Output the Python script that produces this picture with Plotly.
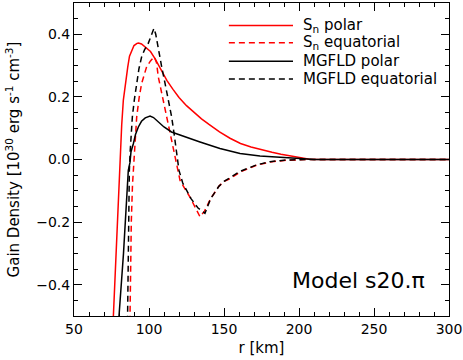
import plotly.graph_objects as go

# ---- data ----
r_sn_pol = [75.8, 78.0, 79.5, 80.7, 81.8, 82.9, 84.3, 85.8, 87.0, 88.4, 90.0, 92.0, 93.0, 95.0,
            98.0, 101.0, 104.0, 108.0, 112.0, 116.0, 120.0, 125.0, 130.0, 135.0, 140.0, 147.0,
            154.0, 161.0, 168.0, 175.0, 182.0, 188.0, 195.0, 201.0, 207.0, 215.0, 300.0]
g_sn_pol = [-0.55, -0.30, -0.12, 0.03, 0.11, 0.19, 0.25, 0.294, 0.33, 0.349, 0.364, 0.371, 0.372, 0.369,
            0.357, 0.345, 0.322, 0.285, 0.252, 0.224, 0.198, 0.172, 0.150, 0.130, 0.112, 0.088,
            0.068, 0.051, 0.040, 0.031, 0.023, 0.017, 0.011, 0.006, 0.001, 0.0, 0.0]

r_sn_eq = [87.2, 87.6, 88.2, 89.0, 90.2, 91.8, 93.5, 95.1, 98.4, 101.0, 103.5, 105.0, 106.2, 108.5,
           110.7, 113.0, 115.1, 117.0, 118.4, 120.7, 122.9, 127.3, 130.7, 134.0, 137.0, 141.1,
           146.7, 150.0, 154.0, 160.7, 171.8, 180.7, 190.0, 205.0, 300.0]
g_sn_eq = [-0.55, -0.40, -0.20, -0.08, 0.0, 0.136, 0.20, 0.243, 0.296, 0.315, 0.328, 0.31, 0.264, 0.21,
           0.157, 0.105, 0.061, 0.02, -0.024, -0.067, -0.085, -0.12, -0.152, -0.183, -0.165, -0.125,
           -0.085, -0.07, -0.061, -0.04, -0.018, -0.008, -0.003, 0.0, 0.0]

r_mg_pol = [79.7, 80.0, 83.0, 85.0, 86.2, 87.3, 88.0, 89.6, 91.0, 92.9, 95.0, 97.5, 100.7, 103.0,
            105.0, 107.3, 110.0, 115.0, 120.7, 124.0, 134.0, 147.3, 154.0, 160.7, 174.0, 187.0,
            200.7, 210.0, 300.0]
g_mg_pol = [-0.55, -0.5, -0.30, -0.15, -0.035, -0.01, 0.025, 0.051, 0.08, 0.104, 0.122, 0.133, 0.139, 0.134,
            0.125, 0.115, 0.104, 0.088, 0.078, 0.072, 0.056, 0.035, 0.026, 0.019, 0.011, 0.006,
            0.003, 0.0, 0.0]

r_mg_eq = [85.6, 86.2, 86.9, 87.5, 88.9, 90.2, 91.8, 93.3, 95.1, 97.0, 99.5, 101.5, 103.3, 104.5,
           106.2, 108.5, 110.7, 113.0, 115.1, 116.8, 118.4, 120.0, 122.5, 125.0, 128.0, 132.7,
           137.3, 141.1, 146.7, 150.0, 154.0, 160.7, 171.8, 180.7, 190.0, 205.0, 300.0]
g_mg_eq = [-0.55, -0.30, -0.035, 0.03, 0.136, 0.19, 0.243, 0.29, 0.328, 0.35, 0.371, 0.395, 0.419, 0.40,
           0.35, 0.295, 0.243, 0.19, 0.136, 0.08, 0.03, -0.035, -0.075, -0.10, -0.125, -0.155,
           -0.172, -0.125, -0.085, -0.07, -0.058, -0.038, -0.017, -0.007, -0.002, 0.0, 0.0]

legend_labels = ["S<sub>n</sub> polar", "S<sub>n</sub> equatorial", "MGFLD polar", "MGFLD equatorial"]

FONT = "DejaVu Sans, sans-serif"
DASH = "6px,4px"

series = [
    (r_sn_pol, g_sn_pol, "red", "solid"),
    (r_sn_eq, g_sn_eq, "red", DASH),
    (r_mg_pol, g_mg_pol, "black", "solid"),
    (r_mg_eq, g_mg_eq, "black", DASH),
]

fig = go.Figure()
for (x, y, col, dash), name in zip(series, legend_labels):
    fig.add_trace(go.Scatter(x=x, y=y, mode="lines", name=name, showlegend=False,
                             line=dict(color=col, width=1.5, dash=dash)))

# hand-drawn legend (long line samples like the original)
leg_y = [0.928, 0.873, 0.814, 0.757]
for (x, y, col, dash), name, yy in zip(series, legend_labels, leg_y):
    fig.add_shape(type="line", xref="paper", yref="paper", x0=0.413, x1=0.584, y0=yy, y1=yy,
                  line=dict(color=col, width=1.5, dash=dash))
    fig.add_annotation(xref="paper", yref="paper", x=0.606, y=yy, text=name, showarrow=False,
                       xanchor="left", yanchor="middle", font=dict(size=15, color="black", family=FONT))

fig.add_annotation(xref="paper", yref="paper", x=0.942, y=0.115, text="Model s20.\u03c0", showarrow=False,
                   xanchor="right", yanchor="middle", font=dict(size=22, color="black", family=FONT))

axis_common = dict(
    showgrid=False, zeroline=False, showline=True, linecolor="black", linewidth=1,
    ticks="inside", ticklen=8, tickcolor="black", mirror="allticks",
    tickfont=dict(size=14, color="black", family=FONT), automargin=False,
)

fig.update_xaxes(range=[50, 300], dtick=50, tick0=50,
                 minor=dict(dtick=10, ticks="inside", ticklen=4, tickcolor="black"),
                 title=dict(text="r [km]", standoff=6, font=dict(size=15, color="black", family=FONT)),
                 **axis_common)
fig.update_yaxes(range=[-0.5, 0.5], dtick=0.2, tick0=0, tickformat=".1f",
                 minor=dict(dtick=0.05, ticks="inside", ticklen=4, tickcolor="black"),
                 title=dict(text="Gain Density [10<sup>30</sup> erg s<sup>-1</sup> cm<sup>-3</sup>]",
                            standoff=12, font=dict(size=15, color="black", family=FONT)),
                 **axis_common)

fig.update_layout(
    width=463, height=360,
    margin=dict(l=74, r=14, t=3, b=44),
    paper_bgcolor="white", plot_bgcolor="white",
)

# drop the browser's default 8px body margin so the figure fills the window
fig.write_html("out.html", config={"displayModeBar": False},
               post_script="document.body.style.margin='0';")
